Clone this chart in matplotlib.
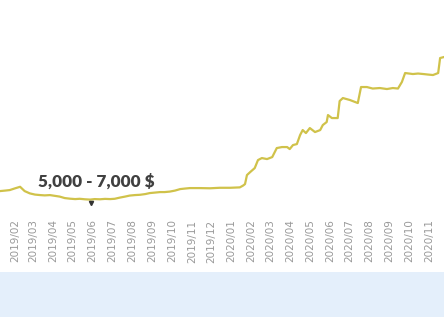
import matplotlib
matplotlib.use('Agg')
import matplotlib.pyplot as plt
import matplotlib.dates as mdates
from matplotlib.patches import Rectangle
import pandas as pd

# ── data ─────────────────────────────────────────────────────────
DATES = [
    "2019-01-09", "2019-01-17", "2019-01-24", "2019-02-01", "2019-02-09",
    "2019-02-16", "2019-02-24", "2019-03-04", "2019-03-12", "2019-03-19",
    "2019-03-27", "2019-04-04", "2019-04-11", "2019-04-19", "2019-04-27",
    "2019-05-05", "2019-05-12", "2019-05-20", "2019-05-28", "2019-06-04",
    "2019-06-12", "2019-06-20", "2019-06-28", "2019-07-05", "2019-07-13",
    "2019-07-21", "2019-07-28", "2019-08-05", "2019-08-13", "2019-08-21",
    "2019-08-28", "2019-09-05", "2019-09-13", "2019-09-20", "2019-09-28",
    "2019-10-06", "2019-10-14", "2019-10-21", "2019-10-29", "2019-11-13",
    "2019-11-29", "2019-12-14", "2019-12-30", "2020-01-14", "2020-01-19",
    "2020-01-22", "2020-01-25", "2020-01-30", "2020-02-06", "2020-02-11",
    "2020-02-17", "2020-02-25", "2020-03-04", "2020-03-11", "2020-03-19",
    "2020-03-27", "2020-03-31", "2020-04-05", "2020-04-11", "2020-04-16",
    "2020-04-20", "2020-04-25", "2020-05-01", "2020-05-09", "2020-05-17",
    "2020-05-21", "2020-05-27", "2020-05-29", "2020-06-04", "2020-06-13",
    "2020-06-16", "2020-06-21", "2020-07-02", "2020-07-10", "2020-07-14",
    "2020-07-19", "2020-07-28", "2020-08-06", "2020-08-17", "2020-08-28",
    "2020-09-06", "2020-09-14", "2020-09-20", "2020-09-25", "2020-10-07",
    "2020-10-15", "2020-10-23", "2020-10-30", "2020-11-07", "2020-11-15",
    "2020-11-18", "2020-11-24",
]
PRICES = [
    6600, 6650, 6700, 6870, 7030,
    6600, 6370, 6250, 6200, 6170,
    6200, 6120, 6050, 5900, 5840,
    5800, 5830, 5780, 5750, 5800,
    5780, 5820, 5800, 5830, 5950,
    6050, 6150, 6200, 6230, 6300,
    6400, 6450, 6500, 6500, 6550,
    6650, 6800, 6850, 6900, 6900,
    6880, 6930, 6930, 6970, 7150,
    7300, 8200, 8500, 8900, 9700,
    9900, 9800, 10000, 10900, 11000,
    11000, 10800, 11200, 11300, 12200,
    12700, 12400, 12900, 12500, 12700,
    13200, 13500, 14200, 13900, 13900,
    15600, 15900, 15700, 15500, 15400,
    17000, 17000, 16850, 16900, 16800,
    16900, 16850, 17500, 18400, 18300,
    18350, 18300, 18250, 18200, 18400,
    19900, 20000,
]
LOW_DATE = ["2019-05-30"]
LOW_PRICE = [5400]
LABEL = "5,000 - 7,000 $"

dates = pd.to_datetime(DATES)

fig = plt.figure(figsize=(4.44, 3.17), dpi=100)
ax = fig.add_axes([0, 0.312, 1, 0.688])

ax.plot(dates, PRICES, color='#d0c24a', linewidth=1.6, solid_joinstyle='round')
ax.plot(pd.to_datetime(LOW_DATE), LOW_PRICE, 'v', color='#333333', markersize=3)

ax.set_xlim(pd.Timestamp("2019-01-09"), pd.Timestamp("2020-11-24"))
ax.set_ylim(3900, 25700)
ax.xaxis.set_major_locator(mdates.MonthLocator())
ax.xaxis.set_major_formatter(mdates.DateFormatter('%Y/%m'))
ax.tick_params(axis='x', length=0, pad=1, labelsize=7.5, labelcolor='#999999',
               labelrotation=90)
ax.set_yticks([])
for s in ax.spines.values():
    s.set_visible(False)

fig.text(38 / 444, 1 - 182 / 317, LABEL, fontsize=12.3, fontweight='heavy',
         family='Lato', color='#404040', ha='left', va='center')

# light-blue band at the bottom
fig.patches.append(Rectangle((0, 0), 1, 45 / 317, transform=fig.transFigure,
                             facecolor='#e4effb', edgecolor='none', zorder=-1))

fig.savefig('out.png', dpi=100)
